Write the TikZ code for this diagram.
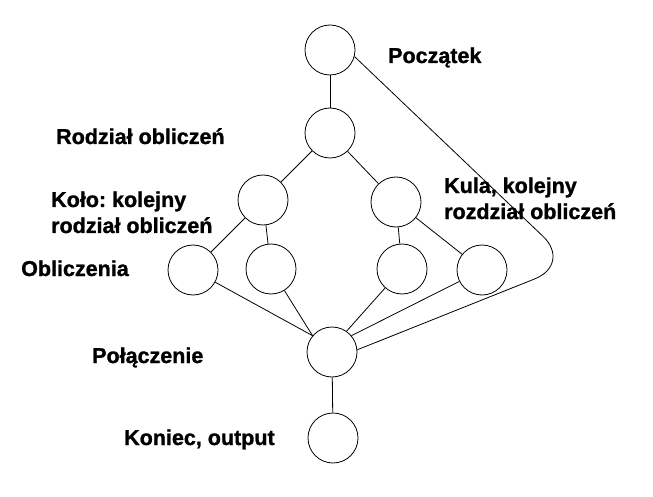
\documentclass[tikz,border=0pt]{standalone}
\usepackage{fontspec}
\setmainfont{Liberation Sans}[BoldFont={Liberation Sans Bold}, BoldFeatures={FakeBold=1.2}]
\frenchspacing

\begin{document}
\begin{tikzpicture}[
    x=1pt, y=-1pt,
    state/.style={circle, draw, line width=0.8pt, minimum size=50pt, inner sep=0pt},
    label/.style={anchor=base west, inner sep=0pt, align=left, font=\bfseries\fontsize{21.5}{26}\selectfont},
    link/.style={line width=0.8pt}
]
\useasboundingbox (0,0) rectangle (653,497);

% Row 1: start and split
\node[state] (start) at (330,50) {};
\node[state] (split) at (330,133) {};

% Row 2: sub splits
\node[state] (subL) at (263,200) {};
\node[state] (subR) at (396,202) {};

% Row 3: computations
\node[state] (compL1) at (193,270) {};
\node[state] (compL2) at (271,269) {};
\node[state] (compR1) at (402,269) {};
\node[state] (compR2) at (482,270) {};

% Row 4: join and end
\node[state] (join) at (332,352) {};
\node[state] (stop) at (333,438) {};

% Labels (base = last line)
\node[label] (lstart) at (388,63) {Początek};
\node[label] (lsplit) at (56,144) {Rodział obliczeń};
\node[label] (lsubL) at (51,233) {Koło: kolejny\\rodział obliczeń};
\node[label] (lsubR) at (444,219) {Kula, kolejny\\rozdział obliczeń};
\node[label] (lcomp) at (21,276) {Obliczenia};
\node[label] (ljoin) at (92,363) {Połączenie};
\node[label] (lstop) at (124,445) {Koniec, output};

% Edges
\draw[link] (start) -- (split);
\draw[link] (split) -- (subL);
\draw[link] (split) -- (subR);
\draw[link] (subL) -- (compL1);
\draw[link] (subL) -- (compL2);
\draw[link] (subR) -- (compR1);
\draw[link] (subR) -- (compR2);
\draw[link] (compL1) -- (join.140);
\draw[link] (compL2) -- (join.140);
\draw[link] (compR1) -- (join.55);
\draw[link] (compR2) -- (join.40);
\draw[link] (join) -- (stop);

% Bypass from start to join
\coordinate (bend) at (572,264);
\draw[link, rounded corners=40pt] (start.-15) -- (bend) -- (join.5);

\end{tikzpicture}
\end{document}
